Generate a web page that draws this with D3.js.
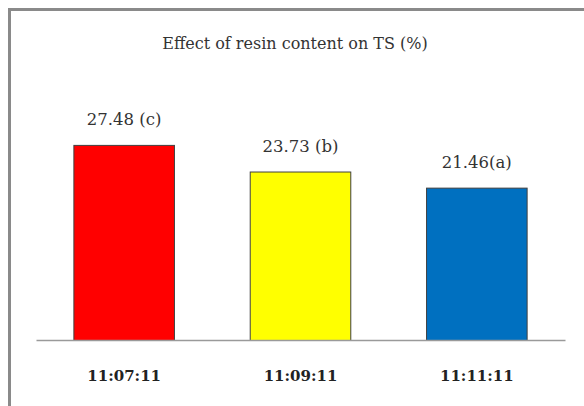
<!DOCTYPE html>
<html>
<head>
<meta charset="utf-8">
<script src="https://cdn.jsdelivr.net/npm/d3@7"></script>
<style>
  html, body { margin: 0; padding: 0; background: #fff; overflow: hidden; }
  svg { display: block; }
</style>
</head>
<body>
<svg id="chart" width="584" height="406"></svg>
<script>
// Tensile strength (%) by resin ratio
const categories = ["11:07:11", "11:09:11", "11:11:11"];
const values = [27.48, 23.73, 21.46];
const groups = ["(c)", "(b)", "(a)"];
const labelGaps = [" ", " ", ""];
const colors = ["#ff0000", "#ffff00", "#0070c0"];
const title = "Effect of resin content on TS (%)";

const svg = d3.select("#chart");
const W = 584, H = 406;
const baseY = 340;

// chart frame (only the top and left edges fall inside the view)
svg.append("path")
  .attr("d", `M9.5,${H}V9.5H${W}`)
  .attr("fill", "none")
  .attr("stroke", "#8a8a8a")
  .attr("stroke-width", 3);

const x = d3.scaleBand()
  .domain(categories)
  .range([36, 565])
  .paddingInner(0.424)
  .paddingOuter(0.212);

const y = d3.scaleLinear()
  .domain([0, 30])
  .range([baseY, baseY - 213]);

svg.append("text")
  .attr("x", 295).attr("y", 49)
  .attr("text-anchor", "middle")
  .attr("font-family", "'DejaVu Serif', serif")
  .attr("font-size", 16)
  .attr("fill", "#333")
  .text(title);

const data = categories.map((c, i) => ({ c, v: values[i], g: groups[i], gap: labelGaps[i], col: colors[i] }));

svg.selectAll("rect.bar")
  .data(data)
  .join("rect")
  .attr("class", "bar")
  .attr("x", d => x(d.c) + 0.5)
  .attr("y", d => y(d.v) + 0.5)
  .attr("width", x.bandwidth() - 1)
  .attr("height", d => baseY - y(d.v))
  .attr("fill", d => d.col)
  .attr("stroke", "#404040")
  .attr("stroke-width", 1);

svg.selectAll("text.val")
  .data(data)
  .join("text")
  .attr("class", "val")
  .attr("x", d => x(d.c) + x.bandwidth() / 2)
  .attr("y", d => y(d.v) - 20)
  .attr("text-anchor", "middle")
  .attr("font-family", "'DejaVu Serif', serif")
  .attr("font-size", 16.5)
  .attr("fill", "#333")
  .text(d => d.v.toFixed(2) + d.gap + d.g);

// category axis
const axis = svg.append("g")
  .attr("transform", `translate(0,${baseY})`)
  .call(d3.axisBottom(x).tickSize(0).tickPadding(0));
axis.select(".domain").attr("stroke", "#9a9a9a").attr("stroke-width", 1.5);
axis.selectAll("text")
  .attr("dy", 0)
  .attr("y", 40.7)
  .attr("font-family", "'DejaVu Serif', serif")
  .attr("font-weight", "bold")
  .attr("font-size", 15)
  .attr("fill", "#222");
</script>
</body>
</html>
